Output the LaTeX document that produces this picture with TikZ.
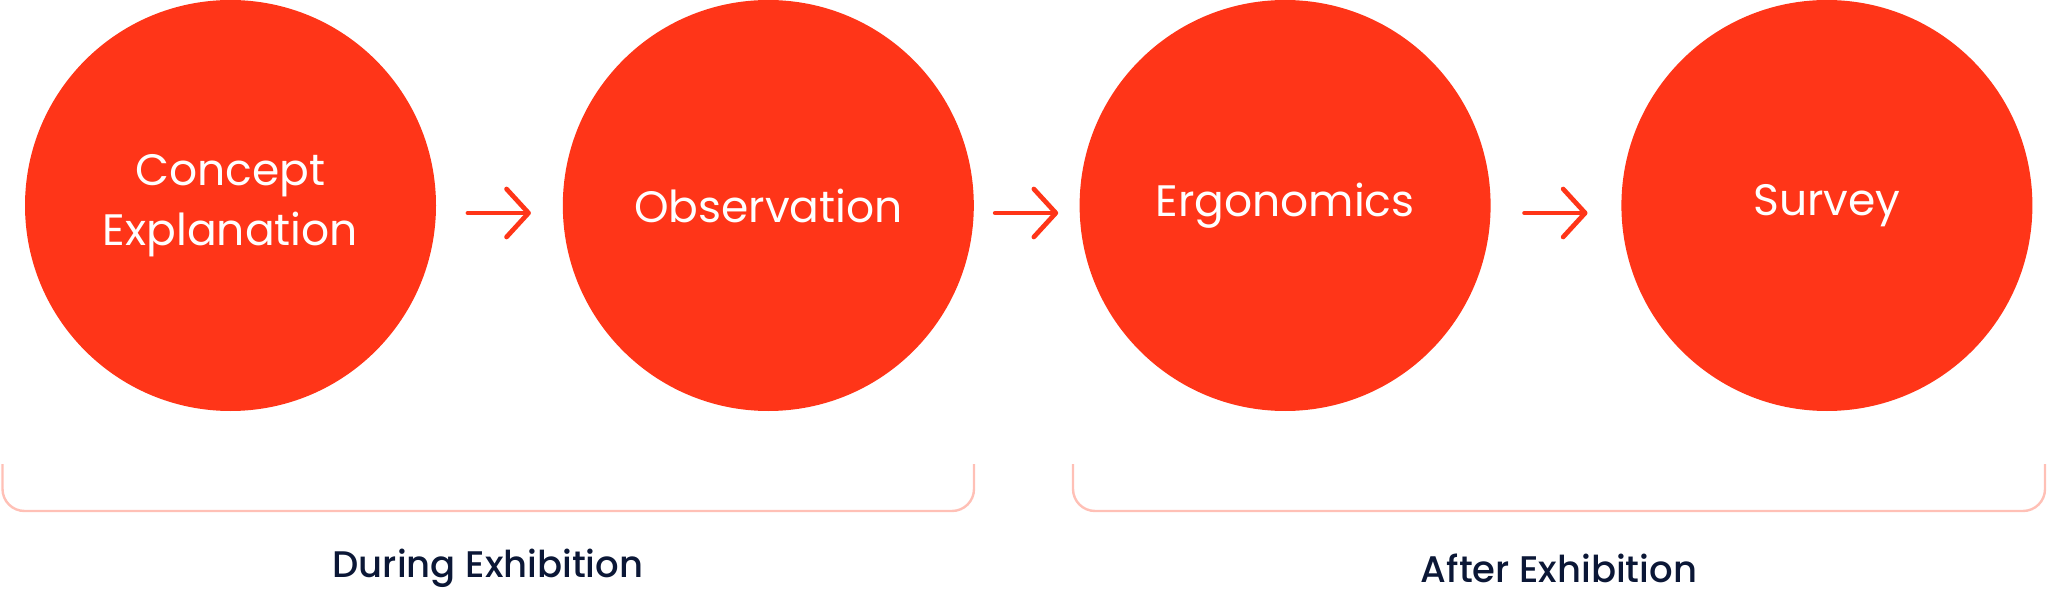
\documentclass[tikz,border=0pt]{standalone}
\usepackage{fontspec}
\setmainfont{Poppins}
\newfontfamily\labelfont{Poppins Medium}
\usetikzlibrary{positioning,arrows.meta}
\definecolor{stepred}{HTML}{FF3518}
\definecolor{bracketpink}{HTML}{FFC0B6}
\definecolor{labelnavy}{HTML}{0B1736}

\begin{document}
\begin{tikzpicture}
    [x=0.5pt, y=-0.5pt,
    stage/.style={circle, inner sep=0pt, minimum size=205.5pt, fill=stepred, text=white, align=center, font=\fontsize{22}{30}\selectfont},
    next/.style={line width=2.35pt, stepred, line cap=round, -{Straight Barb[length=11pt, width=24pt, round]}},
    phase/.style={line width=1.2pt, bracketpink, rounded corners=11pt},
    phaselabel/.style={text=labelnavy, font=\labelfont\fontsize{18.5}{22}\selectfont}]
        \useasboundingbox (0,0) rectangle (2048,598);

        %% Stages
        \node[stage] (S1) at (230.5,205.5) {Concept\\Explanation};
        \node[stage, right=63pt of S1] (S2) {Observation};
        \node[stage, right=52.5pt of S2] (S3) {Ergonomics};
        \node[stage, right=65pt of S3] (S4) {Survey};

        \draw[next, shorten <=15.75pt, shorten >=15.75pt] ([yshift=-3.75pt]S1.east) -- ([yshift=-3.75pt]S2.west);
        \draw[next, shorten <=10.5pt, shorten >=10.5pt] ([yshift=-3.75pt]S2.east) -- ([yshift=-3.75pt]S3.west);
        \draw[next, shorten <=16.75pt, shorten >=16.75pt] ([yshift=-3.75pt]S3.east) -- ([yshift=-3.75pt]S4.west);

        %% Phases
        \draw[phase] (2.5,464) -- (2.5,511) -- (974,511) -- (974,464);
        \draw[phase] (1073,464) -- (1073,511) -- (2045,511) -- (2045,464);
        \node[phaselabel] (during) at (488,568) {During Exhibition};
        \node[phaselabel] (after) at (1559,568) {After Exhibition};
\end{tikzpicture}
\end{document}
